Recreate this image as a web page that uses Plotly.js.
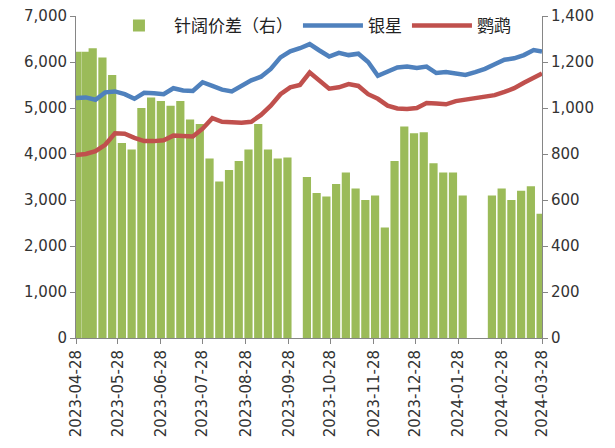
<!DOCTYPE html>
<html>
<head>
<meta charset="utf-8">
<script src="https://cdn.plot.ly/plotly-3.0.1.min.js"></script>
<style>html,body{margin:0;padding:0;background:#fff;}#chart{width:615px;height:448px;}</style>
</head>
<body>
<div id="chart"></div>
<script>
// Weekly spread bars (right axis), dated by week start
const barDates = ["2023-04-27","2023-05-03","2023-05-08","2023-05-15","2023-05-22","2023-05-29","2023-06-05","2023-06-12","2023-06-19","2023-06-26","2023-07-03","2023-07-10","2023-07-17","2023-07-24","2023-07-31","2023-08-07","2023-08-14","2023-08-21","2023-08-28","2023-09-04","2023-09-11","2023-09-18","2023-09-25","2023-10-09","2023-10-16","2023-10-23","2023-10-30","2023-11-06","2023-11-13","2023-11-20","2023-11-27","2023-12-04","2023-12-11","2023-12-18","2023-12-25","2024-01-01","2024-01-08","2024-01-15","2024-01-22","2024-01-29","2024-02-19","2024-02-26","2024-03-04","2024-03-11","2024-03-18","2024-03-25"];
const spread = [1245,1245,1260,1220,1143,848,820,1000,1046,1030,1010,1030,950,930,780,680,730,770,820,930,820,780,785,700,630,615,670,720,650,600,620,480,770,920,890,895,760,720,720,620,620,650,600,640,660,540];

// Price lines (left axis)
const lineDates = ["2023-04-28","2023-05-05","2023-05-12","2023-05-19","2023-05-26","2023-06-02","2023-06-09","2023-06-16","2023-06-23","2023-06-30","2023-07-07","2023-07-14","2023-07-21","2023-07-28","2023-08-04","2023-08-11","2023-08-18","2023-08-25","2023-09-01","2023-09-08","2023-09-15","2023-09-22","2023-09-29","2023-10-06","2023-10-13","2023-10-20","2023-10-27","2023-11-03","2023-11-10","2023-11-17","2023-11-24","2023-12-01","2023-12-08","2023-12-15","2023-12-22","2023-12-29","2024-01-05","2024-01-12","2024-01-19","2024-01-26","2024-02-02","2024-02-09","2024-02-16","2024-02-23","2024-03-01","2024-03-08","2024-03-15","2024-03-22","2024-03-28"];
const yinxing = [5220,5230,5180,5340,5360,5300,5200,5330,5320,5300,5430,5380,5370,5560,5480,5400,5360,5480,5600,5680,5850,6100,6230,6300,6390,6250,6120,6200,6150,6180,6000,5700,5800,5880,5900,5870,5900,5760,5780,5760,5720,5780,5850,5950,6050,6080,6150,6260,6230];
const yingwu = [3980,4000,4060,4200,4450,4440,4350,4280,4280,4300,4400,4400,4380,4550,4780,4700,4680,4680,4700,4850,5050,5300,5450,5500,5770,5600,5420,5450,5520,5480,5300,5200,5050,4990,4980,5000,5110,5100,5080,5150,5180,5200,5230,5280,5350,5430,5550,5650,5750];

// X tick labels
const xTicks = ["2023-04-28","2023-05-28","2023-06-28","2023-07-28","2023-08-28","2023-09-28","2023-10-28","2023-11-28","2023-12-28","2024-01-28","2024-02-28","2024-03-28"];

const names = ["针阔价差（右）", "银星", "鹦鹉"];

const DAY = 86400000;
const tickFont = {family: "DejaVu Sans, Verdana, sans-serif", size: 15, color: "#333"};

const traces = [
  {type: "bar", x: barDates, y: spread, name: names[0], yaxis: "y",
   marker: {color: "#9BBB59"}, width: 5.9 * DAY, offset: -0.95 * DAY},
  {type: "scatter", mode: "lines", x: lineDates, y: yinxing, name: names[1], yaxis: "y2",
   line: {color: "#4F81BD", width: 4.5}},
  {type: "scatter", mode: "lines", x: lineDates, y: yingwu, name: names[2], yaxis: "y2",
   line: {color: "#C0504D", width: 4.5}}
];

const layout = {
  width: 615, height: 448,
  margin: {l: 76, r: 73, t: 16, b: 110, autoexpand: false},
  paper_bgcolor: "#fff", plot_bgcolor: "#fff",
  showlegend: true,
  legend: {orientation: "h", x: 0.06, xanchor: "left", y: 1.025, yanchor: "top",
           bgcolor: "rgba(0,0,0,0)", font: {family: "Noto Sans CJK SC, sans-serif", size: 17, color: "#222"},
           itemwidth: 60, tracegroupgap: 0},
  xaxis: {type: "date", range: ["2023-04-28", "2024-03-28 00:00:01"],
          tickmode: "array", tickvals: xTicks, ticktext: xTicks, tickangle: -90,
          showgrid: false, zeroline: false, showline: true, linecolor: "#868686", linewidth: 1,
          ticks: "outside", ticklen: 5, tickcolor: "#868686", tickfont: tickFont},
  yaxis: {side: "right", range: [0, 1400], dtick: 200, tickformat: ",d",
          showgrid: false, zeroline: false, showline: true, linecolor: "#868686", linewidth: 1,
          ticks: "outside", ticklen: 5, tickcolor: "#868686", tickfont: tickFont},
  yaxis2: {side: "left", overlaying: "y", range: [0, 7000], dtick: 1000, tickformat: ",d",
           showgrid: false, zeroline: false, showline: true, linecolor: "#868686", linewidth: 1,
           ticks: "outside", ticklen: 5, tickcolor: "#868686", tickfont: tickFont}
};

Plotly.newPlot("chart", traces, layout, {displayModeBar: false, staticPlot: true});
</script>
</body>
</html>
